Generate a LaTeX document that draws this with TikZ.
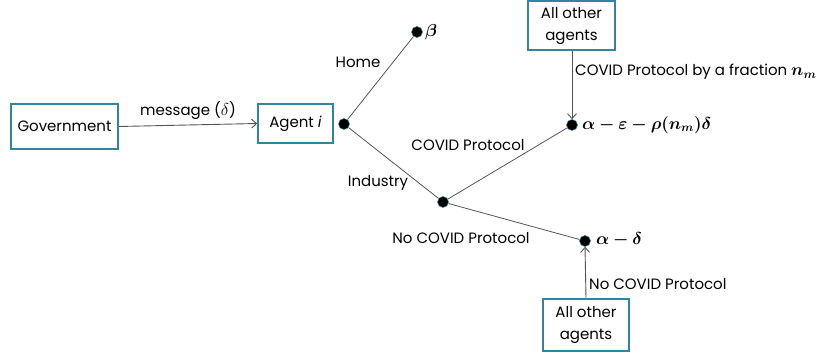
\documentclass[tikz,border=0pt]{standalone}
\usepackage{fontspec}
\usepackage{amsmath}
\usepackage{bm}
\setmainfont{Poppins}
\usetikzlibrary{arrows.meta}
\definecolor{boxteal}{RGB}{49,133,160}
\definecolor{linegray}{RGB}{85,85,85}
\newcommand{\largemath}[1]{{\fontsize{17.5}{20}\selectfont$#1$}}
\begin{document}
\begin{tikzpicture}[x=1pt,y=-1pt,
  txt/.style={font=\fontsize{15}{18}\selectfont, inner sep=0pt},
  mth/.style={font=\fontsize{16.5}{20}\selectfont, inner sep=0pt},
  box/.style={draw=boxteal, line width=1.6pt, align=center, inner sep=0pt, font=\fontsize{15}{22}\selectfont},
  dot/.style={circle, fill=black, draw=boxteal, line width=0.5pt, minimum size=11pt, inner sep=0pt},
  edge/.style={draw=linegray, line width=0.8pt},
  arr/.style={draw=linegray, line width=0.9pt, -{Straight Barb[length=5pt,width=9pt]}}
]
\useasboundingbox (0,0) rectangle (832,355);
% boxes
\node[box, minimum width=107pt, minimum height=45pt] (gov) at (64.5,126.5) {Government};
\node[box, minimum width=75pt, minimum height=39pt] (agent) at (295.5,123.5) {Agent \textit{i}};
\node[box, minimum width=87pt, minimum height=49pt] (top) at (571.5,25.5) {All other\\agents};
\node[box, minimum width=86pt, minimum height=52pt] (bot) at (586,325) {All other\\agents};
% dots
\node[dot] (a) at (344,124) {};
\node[dot] (b) at (417,32) {};
\node[dot] (ind) at (443,202) {};
\node[dot] (cp) at (572,125) {};
\node[dot] (ncp) at (585,241) {};
% value labels
\node[mth, anchor=west] (lb) at (425,32) {$\bm{\beta}$};
\node[mth, anchor=west] (lcp) at (582,125) {$\bm{\alpha-\varepsilon-\rho(n_m)\delta}$};
\node[mth, anchor=west] (lncp) at (596,240) {$\bm{\alpha-\delta}$};
% edges
\draw[arr] (gov.east) -- (agent.west) node[txt, midway, above=5pt] (msg) {message (\largemath{\delta})};
\draw[edge] (a) -- (b);
\draw[edge] (a) -- (ind);
\draw[edge] (ind) -- (cp);
\draw[edge] (ind) -- (ncp);
\draw[arr] (top.south -| cp) -- (cp.north);
\draw[arr] (bot.north) -- (ncp.south);
% edge labels
\node[txt] (home) at (358,62) {Home};
\node[txt] (indl) at (378,183) {Industry};
\node[txt] (cpl) at (468,145) {COVID Protocol};
\node[txt] (ncpl) at (461,238) {No COVID Protocol};
\node[txt, anchor=west] (frac) at (575,72) {COVID Protocol by a fraction \largemath{\bm{n_m}}};
\node[txt, anchor=west] (ncp2) at (589,284) {No COVID Protocol};
\end{tikzpicture}
\end{document}
